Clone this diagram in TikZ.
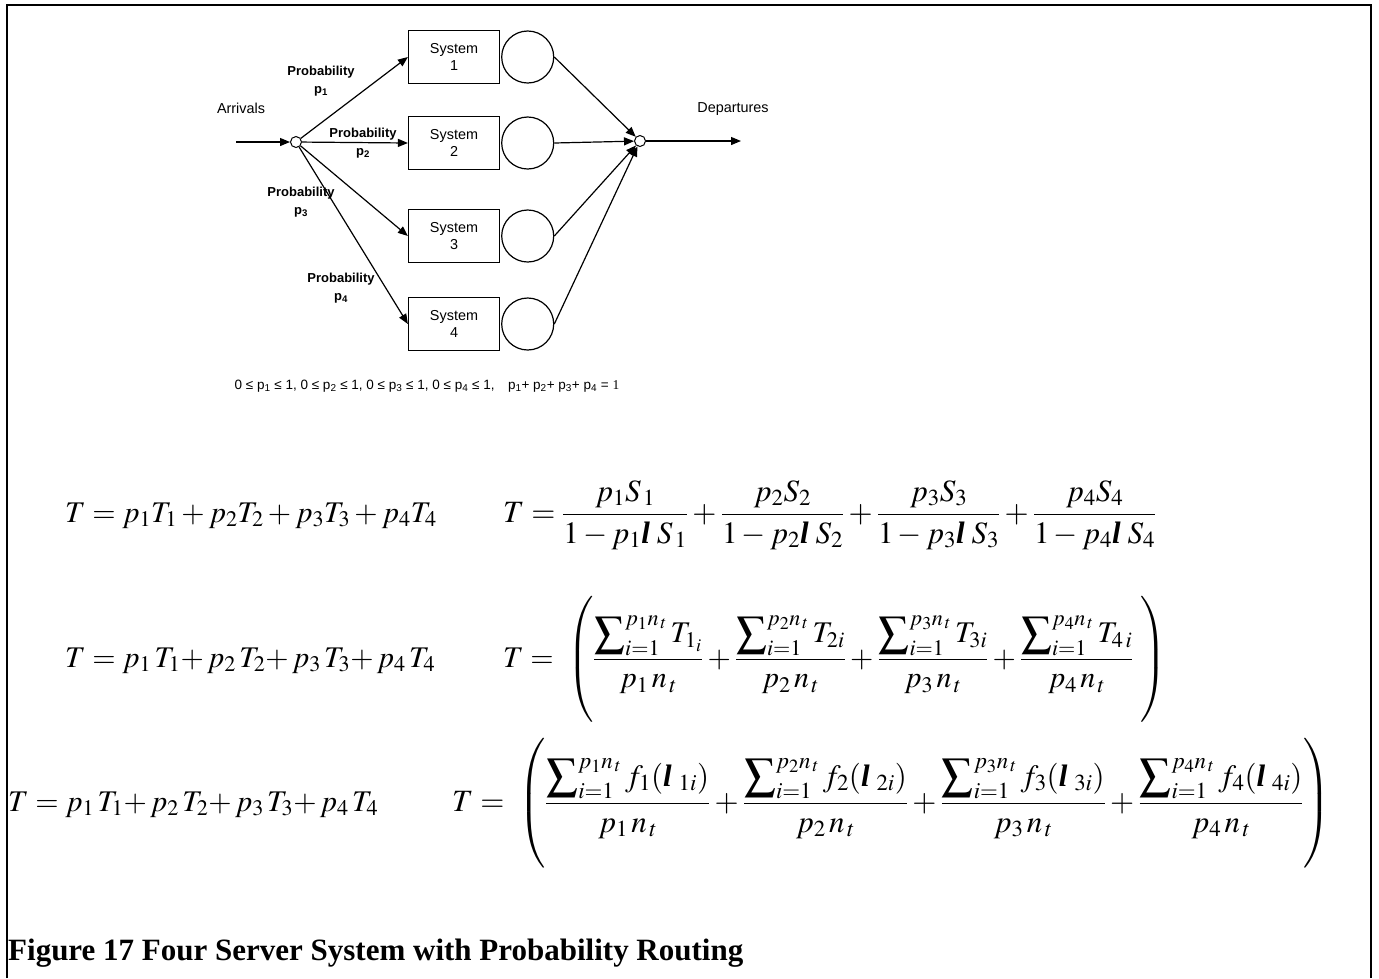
\documentclass[tikz,border=0pt]{standalone}
\usepackage{mathptmx}
\usepackage{fontspec}
\setmainfont{Liberation Serif}
\newfontfamily\arial{Liberation Sans}
\usetikzlibrary{arrows.meta,positioning}
\newcommand{\lam}{\mbox{\bfseries\itshape l}}
\newcommand{\eqsize}{\fontsize{31}{37}\selectfont}
\newcommand{\bigpar}{\rule[-1.7em]{0pt}{3.9em}}
\newcommand{\sumto}[1]{\displaystyle\sum\nolimits_{i=1}^{#1}}

\begin{document}
\begin{tikzpicture}
  [x=1pt,y=-1pt,
   every node/.style={inner sep=0pt},
   >={Triangle[length=10pt,width=8pt]},
   sysbox/.style={draw,line width=1.2pt,minimum width=91pt,minimum height=53pt,
     align=center,font=\arial\fontsize{14.4}{17}\selectfont},
   srv/.style={draw,circle,line width=1.2pt,minimum size=52pt},
   junc/.style={draw,circle,line width=1pt,minimum size=11pt,fill=white},
   prob/.style={align=center,font=\arial\bfseries\fontsize{13}{18}\selectfont},
   lbl/.style={font=\arial\fontsize{14.4}{17}\selectfont},
   eqn/.style={anchor=base west,font=\eqsize},
   eqs/.style={anchor=base west,font=\fontsize{30}{36}\selectfont},
   flow/.style={->,line width=1.2pt}]

  \useasboundingbox (0,0) rectangle (1379,978);
  \draw[line width=2.5pt] (7,978) -- (7,5) -- (1371,5) -- (1371,978);

  % routing network
  \node[junc] (in) at (296,142) {};
  \node[junc] (out) at (640,141) {};
  \coordinate (src) at (236,142);
  \coordinate (snk) at (741,141);
  \foreach \k/\y in {1/57,2/143,3/236,4/324}{
    \node[sysbox] (sys\k) at (454,\y) {System\\\k};
    \node[srv,right=1pt of sys\k] (srv\k) {};
    \draw[flow] (in) -- (sys\k.west);
    \draw[flow] (srv\k.east) -- (out);
  }
  \draw[flow] (src) -- (in);
  \draw[flow] (out) -- (snk);

  \node[lbl] (arr) at (241,108) {Arrivals};
  \node[lbl] (dep) at (733,109) {Departures};
  \node[prob] (pr1) at (321,81) {Probability\\p\textsubscript{1}};
  \node[prob] (pr2) at (363,143) {Probability\\p\textsubscript{2}};
  \node[prob] (pr3) at (301,202) {Probability\\p\textsubscript{3}};
  \node[prob] (pr4) at (341,288) {Probability\\p\textsubscript{4}};

  \node[font=\arial\fontsize{13.5}{16}\selectfont] (rng) at (427,386)
    {0 ≤ p\textsubscript{1} ≤ 1, 0 ≤ p\textsubscript{2} ≤ 1, 0 ≤ p\textsubscript{3} ≤ 1, 0 ≤ p\textsubscript{4} ≤ 1,\quad
     p\textsubscript{1}+ p\textsubscript{2}+ p\textsubscript{3}+ p\textsubscript{4} = {\rmfamily 1}};

  % response time
  \node[eqs] (e1a) at (65,522) {$T = p_1T_1 + p_2T_2 + p_3T_3 + p_4T_4$};
  \node[eqn] (e1b) at (503,522) {$\displaystyle T = \frac{p_1S_{\,1}}{1- p_1\lam\;S_{\,1}}
    + \frac{p_2S_2}{1- p_2\lam\;S_2} + \frac{p_3S_3}{1- p_3\lam\;S_3} + \frac{p_4S_4}{1- p_4\lam\;S_4}$};

  \node[eqs] (e2a) at (65,667) {$T = p_1\,T_1{+}\,p_2\,T_2{+}\,p_3\,T_3{+}\,p_4\,T_4$};
  \node[eqs] (e2b) at (503,667) {$\displaystyle T = \;\left(\bigpar
    \frac{\sumto{p_1n_{\,t}} T_{1_i}}{p_1\,n_{\,t}}
    + \frac{\sumto{p_2n_{\,t}} T_{2i}}{p_2\,n_{\,t}}
    + \frac{\sumto{p_3n_{\,t}} T_{3i}}{p_3\,n_{\,t}}
    + \frac{\sumto{p_4n_{\,t}} T_{4\,i}}{p_4\,n_{\,t}}\;\right)$};

  \node[eqs] (e3a) at (8,811) {$T = p_1\,T_1{+}\,p_2\,T_2{+}\,p_3\,T_3{+}\,p_4\,T_4$};
  \node[eqn] (e3b) at (452,811) {$\displaystyle T = \;\left(\bigpar
    \frac{\sumto{p_1n_{\,t}} f_1(\lam\;{}_{1i})}{p_1\,n_{\,t}}
    + \frac{\sumto{p_2n_{\,t}} f_2(\lam\;{}_{2i})}{p_2\,n_{\,t}}
    + \frac{\sumto{p_3n_{\,t}} f_3(\lam\;{}_{3i})}{p_3\,n_{\,t}}
    + \frac{\sumto{p_4n_{\,t}} f_4(\lam\;{}_{4i})}{p_4\,n_{\,t}}\right)$};

  \node[anchor=base west,font=\bfseries\fontsize{31}{37}\selectfont] (cap) at (8,960)
    {Figure 17 Four Server System with Probability Routing};
\end{tikzpicture}
\end{document}
